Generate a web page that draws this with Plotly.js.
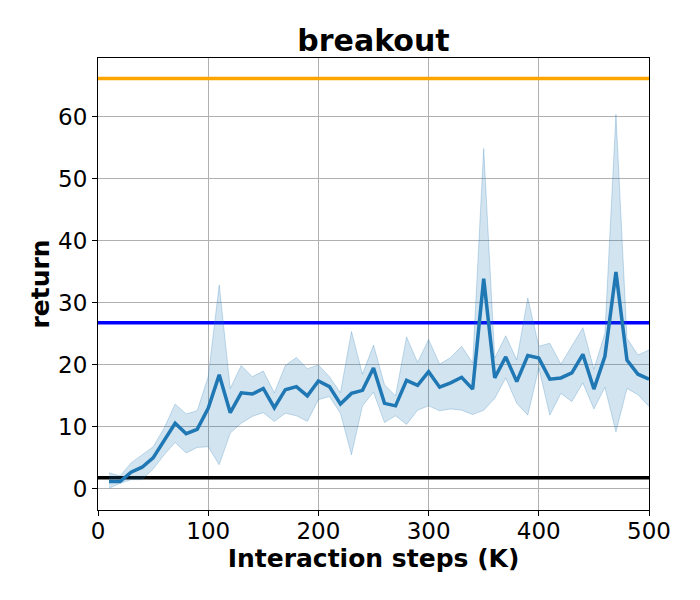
<!DOCTYPE html>
<html>
<head>
<meta charset="utf-8">
<script src="https://cdn.plot.ly/plotly-3.0.1.min.js"></script>
<style>
  html, body { margin: 0; padding: 0; background: #fff; }
  #chart { width: 700px; height: 600px; }
</style>
</head>
<body>
<div id="chart"></div>
<script>
// interaction steps (K)
const steps = [10, 20, 30, 40, 50, 60, 70, 80, 90, 100,
  110, 120, 130, 140, 150, 160, 170, 180, 190, 200,
  210, 220, 230, 240, 250, 260, 270, 280, 290, 300,
  310, 320, 330, 340, 350, 360, 370, 380, 390, 400,
  410, 420, 430, 440, 450, 460, 470, 480, 490, 500];

// mean return
const meanReturn = [1.2, 1.2, 2.7, 3.5, 5.0, 7.8, 10.6, 8.9, 9.6, 13.0,
  18.4, 12.3, 15.5, 15.3, 16.2, 13.1, 16.0, 16.5, 15.0, 17.4,
  16.5, 13.7, 15.4, 15.9, 19.5, 13.8, 13.4, 17.5, 16.7, 18.9,
  16.4, 17.1, 18.0, 16.1, 33.9, 17.9, 21.3, 17.3, 21.5, 21.1,
  17.7, 17.9, 18.7, 21.7, 16.1, 21.4, 35.0, 20.8, 18.5, 17.7];

// upper edge of the shaded band
const upperReturn = [2.6, 2.1, 4.2, 5.5, 6.8, 9.8, 13.7, 12.1, 12.6, 18.1,
  32.9, 16.2, 19.9, 18.1, 19.0, 15.5, 19.9, 21.2, 19.4, 20.0,
  18.1, 15.5, 25.4, 18.5, 23.2, 16.8, 15.0, 24.5, 20.4, 24.1,
  20.1, 21.2, 23.0, 20.3, 54.9, 21.1, 24.7, 20.8, 30.8, 23.0,
  23.5, 20.1, 23.1, 26.0, 19.3, 25.1, 60.4, 24.3, 21.6, 22.4];

// lower edge of the shaded band
const lowerReturn = [0.1, 0.9, 1.5, 1.5, 3.2, 5.5, 7.5, 5.8, 6.7, 6.8,
  3.9, 9.0, 10.6, 11.7, 12.3, 10.9, 12.2, 11.8, 10.9, 14.4,
  14.9, 12.2, 5.5, 13.4, 15.6, 10.7, 11.8, 10.4, 12.7, 13.4,
  12.6, 12.9, 12.7, 12.0, 12.7, 14.6, 17.9, 13.8, 11.9, 19.5,
  11.9, 15.4, 14.1, 17.1, 12.9, 16.4, 9.2, 16.2, 15.2, 13.3];

// reference levels
const xSpan = [0, 500];
const orangeLevel = 66.2;
const blueLevel = 26.8;
const blackLevel = 1.8;

const xTicks = [0, 100, 200, 300, 400, 500];
const yTicks = [0, 10, 20, 30, 40, 50, 60];

const FONT = 'DejaVu Sans, Liberation Sans, sans-serif';

const hline = (level, color) => ({
  type: 'scatter',
  mode: 'lines',
  x: xSpan,
  y: [level, level],
  line: { color, width: 3.5 },
  hoverinfo: 'skip',
});

const traces = [
  hline(orangeLevel, '#ffa500'),
  hline(blueLevel, '#0000ff'),
  hline(blackLevel, '#000000'),
  {
    // lower band edge
    type: 'scatter',
    mode: 'lines',
    x: steps,
    y: lowerReturn,
    line: { color: 'rgba(31,119,180,0.25)', width: 1 },
    hoverinfo: 'skip',
  },
  {
    // upper band edge, filled down to the lower one
    type: 'scatter',
    mode: 'lines',
    x: steps,
    y: upperReturn,
    fill: 'tonexty',
    fillcolor: 'rgba(31,119,180,0.2)',
    line: { color: 'rgba(31,119,180,0.25)', width: 1 },
    hoverinfo: 'skip',
  },
  {
    type: 'scatter',
    mode: 'lines',
    x: steps,
    y: meanReturn,
    line: { color: '#1f77b4', width: 3.5 },
  },
];

const axisCommon = {
  showgrid: true,
  gridcolor: '#b0b0b0',
  gridwidth: 1,
  zeroline: false,
  showline: true,
  linecolor: '#000',
  linewidth: 1,
  mirror: true,
  ticks: 'outside',
  ticklen: 5,
  tickwidth: 1,
  tickcolor: '#000',
  tickfont: { family: FONT, size: 23, color: '#000' },
};

const layout = {
  width: 700,
  height: 600,
  paper_bgcolor: '#fff',
  plot_bgcolor: '#fff',
  showlegend: false,
  margin: { l: 98, r: 51, t: 58, b: 90 },
  title: {
    text: '<b>breakout</b>',
    x: 0.5,
    xref: 'paper',
    y: 0.933,
    yanchor: 'middle',
    font: { family: FONT, size: 30, color: '#000' },
  },
  xaxis: {
    ...axisCommon,
    range: [0, 500],
    tickvals: xTicks,
    ticklabelstandoff: -5,
    title: {
      text: '<b>Interaction steps (K)</b>',
      standoff: 5,
      font: { family: FONT, size: 25, color: '#000' },
    },
  },
  yaxis: {
    ...axisCommon,
    range: [-3.4, 69.5],
    tickvals: yTicks,
    title: {
      text: '<b>return</b>',
      standoff: 1,
      font: { family: FONT, size: 25, color: '#000' },
    },
  },
};

Plotly.newPlot('chart', traces, layout, { displayModeBar: false, staticPlot: true });
</script>
</body>
</html>
